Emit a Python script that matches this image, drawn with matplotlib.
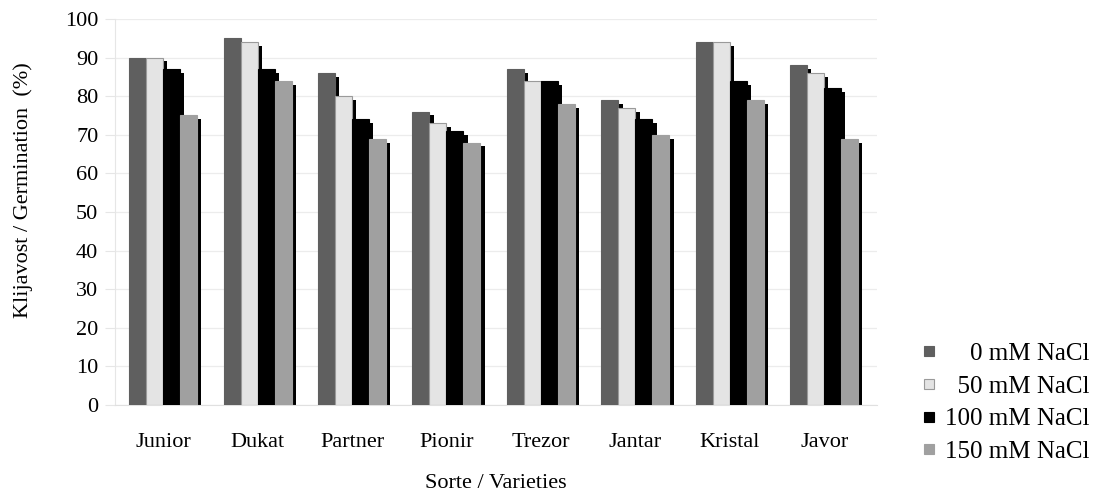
import numpy as np
import matplotlib.pyplot as plt
from matplotlib.lines import Line2D

plt.rcParams["font.family"] = ["Liberation Serif", "DejaVu Serif"]

varieties = ["Junior", "Dukat", "Partner", "Pionir", "Trezor", "Jantar", "Kristal", "Javor"]
treatments = ["0 mM NaCl", "50 mM NaCl", "100 mM NaCl", "150 mM NaCl"]
nacl_0 = [90, 95, 86, 76, 87, 79, 94, 88]
nacl_50 = [90, 94, 80, 73, 84, 77, 94, 86]
nacl_100 = [87, 87, 74, 71, 84, 74, 84, 82]
nacl_150 = [75, 84, 69, 68, 78, 70, 79, 69]
series = [nacl_0, nacl_50, nacl_100, nacl_150]

faces = ["#5f5f5f", "#e4e4e4", "#000000", "#a0a0a0"]
edges = ["#5f5f5f", "#9a9a9a", "#000000", "#a0a0a0"]

fig = plt.figure(figsize=(10.97, 4.92), dpi=100)
ax = fig.add_axes([0.1048, 0.1768, 0.6947, 0.7846])

x = np.arange(len(varieties))
w = 0.18
start = -0.36
for i, vals in enumerate(series):
    left = x + start + i * w
    vals = np.asarray(vals, dtype=float)
    # pseudo-3D shadow behind each bar
    ax.bar(left + 0.045, vals - 1.0, width=w, align="edge",
           color="black", zorder=2, linewidth=0)
    ax.bar(left, vals, width=w, align="edge", color=faces[i],
           edgecolor=edges[i], linewidth=0.8, zorder=3)

ax.set_xlim(-0.51, 7.56)
ax.set_ylim(0, 100)
ax.set_yticks(np.arange(0, 101, 10))
ax.set_xticks(x)
ax.set_xticklabels(varieties)
ax.tick_params(axis="y", length=7, color="#e6e6e6", labelsize=16, pad=5)
ax.tick_params(axis="x", length=0, labelsize=16, pad=20)
ax.grid(axis="y", color="#ececec", linewidth=0.9, zorder=0)
ax.set_axisbelow(True)
for s in ["top", "right"]:
    ax.spines[s].set_visible(False)
ax.spines["left"].set_color("#e6e6e6")
ax.spines["bottom"].set_color("#e0e0e0")

ax.set_ylabel("Klijavost / Germination  (%)", fontsize=16)
ax.yaxis.set_label_coords(-0.108, 0.557)
ax.set_xlabel("Sorte / Varieties", fontsize=16, labelpad=16)

labels = ["    0 mM NaCl", "  50 mM NaCl", "100 mM NaCl", "150 mM NaCl"]
handles = [Line2D([], [], linestyle="none", marker="s", markersize=7.5,
                  markerfacecolor=faces[i], markeredgecolor=edges[i],
                  markeredgewidth=0.8) for i in range(4)]
fig.legend(handles, labels, loc="upper left", bbox_to_anchor=(0.839, 0.304),
           frameon=False, fontsize=18, labelspacing=0.41, handletextpad=0.3,
           handlelength=0.7, borderpad=0, borderaxespad=0)

fig.savefig("out.png", dpi=100)
